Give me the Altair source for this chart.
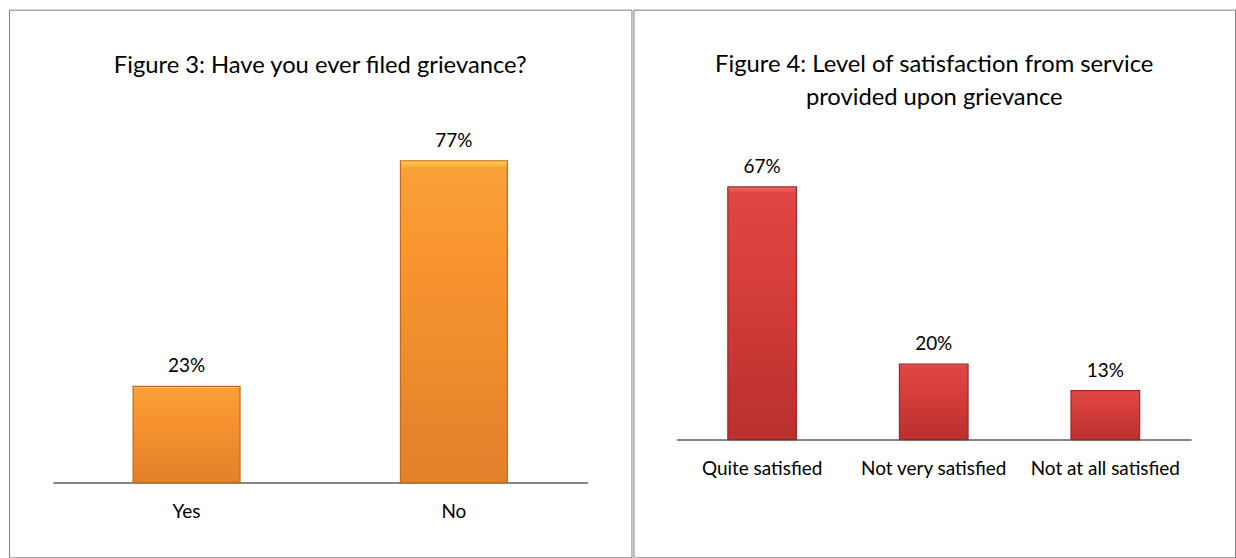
import altair as alt
import pandas as pd

# ---- data ----
cats_left = ["Yes", "No"]
vals_left = [23, 77]
labels_left = ["23%", "77%"]
title_left = ["Figure 3: Have you ever filed grievance?"]

cats_right = ["Quite satisfied", "Not very satisfied", "Not at all satisfied"]
vals_right = [67, 20, 13]
labels_right = ["67%", "20%", "13%"]
title_right = ["Figure 4: Level of satisfaction from service", "provided upon grievance"]

FONT = "Lato"
GRAY = "#7f7f7f"


def grad(stops):
    return alt.Gradient(
        gradient="linear",
        stops=[alt.GradientStop(offset=o, color=c) for o, c in stops],
        x1=0, x2=0, y1=0, y2=1,
    )


orange = grad([(0, "#FCD04C"), (0.025, "#F9A038"), (0.3, "#F8952F"), (1, "#E3802B")])
red = grad([(0, "#EE6A66"), (0.025, "#DE4744"), (0.3, "#D8403D"), (1, "#B9302E")])


def panel(cats, vals, labels, title, width, height, xrange, ydomain, yrange,
          axis_offset, fill, edge, title_offset):
    df = pd.DataFrame({"cat": cats, "val": vals, "lab": labels})
    x = alt.X(
        "cat:N", sort=cats, title=None,
        scale=alt.Scale(range=xrange, paddingInner=0.6, paddingOuter=0.3),
        axis=alt.Axis(
            orient="bottom", offset=axis_offset, labelAngle=0, ticks=False,
            tickSize=0, domainColor="#868686", domainWidth=2, labelFont=FONT,
            labelFontSize=19, labelColor="black", labelPadding=35,
            labelBaseline="alphabetic", grid=False,
        ),
    )
    y = alt.Y("val:Q", scale=alt.Scale(domain=ydomain, range=yrange), axis=None)
    bars = alt.Chart(df).mark_bar(color=fill, stroke=edge, strokeWidth=1.2).encode(x=x, y=y)
    text = alt.Chart(df).mark_text(
        dy=-14, baseline="alphabetic", font=FONT, fontSize=19, color="black"
    ).encode(x=alt.X("cat:N", sort=cats), y=alt.Y("val:Q"), text="lab:N")
    return alt.layer(bars, text).properties(
        width=width, height=height,
        title=alt.Title(
            text=title, font=FONT, fontSize=23.8, fontWeight="normal",
            color="black", anchor="middle", frame="group", offset=title_offset,
            baseline="bottom", lineHeight=33,
        ),
    )


left = panel(cats_left, vals_left, labels_left, title_left, 624, 549,
             [44, 580], [0, 90], [474, 97], -75, orange, "#C46A1E", -92)
right = panel(cats_right, vals_right, labels_right, title_right, 603, 549,
              [43, 559], [0, 80], [431, 128.6], -118, red, "#9E2725", -124)

chart = alt.hconcat(left, right, spacing=0).properties(
    padding={"left": 8, "top": 8, "right": 0, "bottom": 0},
    background="white",
).configure_view(stroke=GRAY, strokeWidth=1).resolve_scale(x="independent", y="independent")

chart.save("out.html", embed_options={"renderer": "svg", "actions": False})
